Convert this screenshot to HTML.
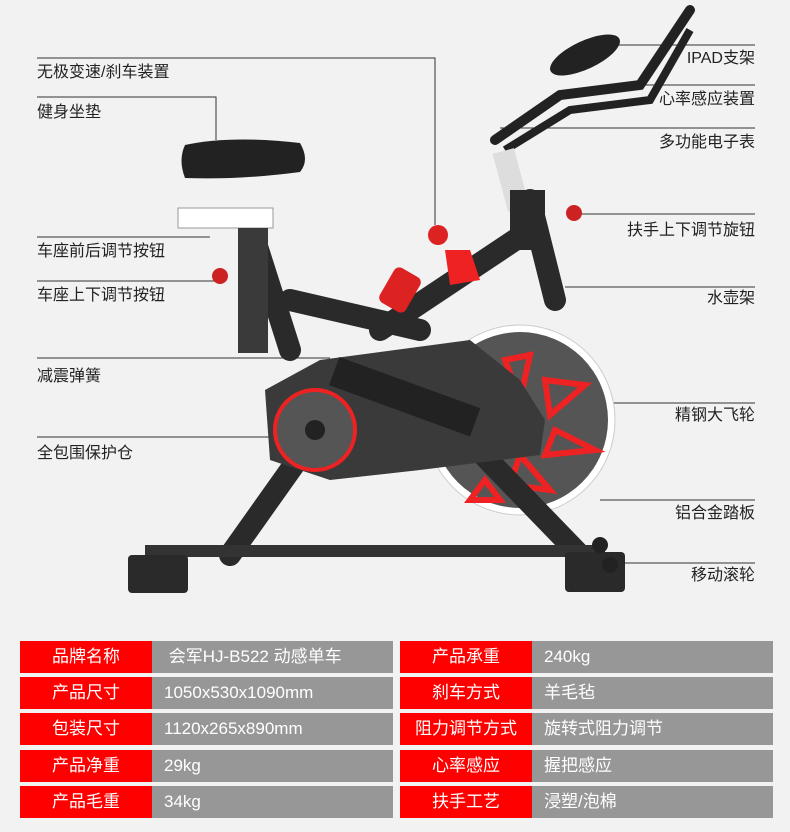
<!DOCTYPE html>
<html><head><meta charset="utf-8"><style>
body{margin:0;width:790px;height:832px;background:#f2f2f2;position:relative;overflow:hidden;font-family:"Liberation Sans","Noto Sans CJK SC",sans-serif}
.l{position:absolute;font-size:16px;color:#222;line-height:20px;white-space:nowrap}
.r{text-align:right;right:35px}
.row{position:absolute;height:32px;line-height:32px;font-size:17px;color:#fff}
.red{background:#f00;text-align:center}
.gr{background:#979797;padding-left:12px;box-sizing:border-box}
</style></head><body>
<svg width="790" height="632" style="position:absolute;left:0;top:0">
<g stroke="#333" stroke-width="1" fill="none">
<polyline points="37,58 435,58 435,225"/>
<polyline points="37,97 216,97 216,140"/>
<line x1="37" y1="237" x2="210" y2="237"/>
<line x1="37" y1="281" x2="215" y2="281"/>
<line x1="37" y1="358" x2="330" y2="358"/>
<line x1="37" y1="437" x2="290" y2="437"/>
<line x1="600" y1="45" x2="755" y2="45"/>
<line x1="640" y1="85" x2="755" y2="85"/>
<line x1="500" y1="128" x2="755" y2="128"/>
<line x1="580" y1="214" x2="755" y2="214"/>
<line x1="565" y1="287" x2="755" y2="287"/>
<line x1="610" y1="403" x2="755" y2="403"/>
<line x1="600" y1="500" x2="755" y2="500"/>
<line x1="620" y1="563" x2="755" y2="563"/>
</g>
<!-- flywheel -->
<circle cx="520" cy="420" r="95" fill="#fff" stroke="#ccc"/>
<circle cx="520" cy="420" r="88" fill="#555"/>
<g fill="none" stroke="#e22" stroke-width="6">
<path d="M505,360 L530,355 L520,400 Z"/><path d="M545,380 L585,385 L550,415 Z"/><path d="M555,430 L595,450 L545,455 Z"/><path d="M520,455 L550,490 L510,485 Z"/><path d="M485,480 L470,500 L500,500 Z"/>
</g>
<!-- frame -->
<g stroke="#2a2a2a" stroke-width="22" stroke-linecap="round" fill="none">
<line x1="255" y1="240" x2="290" y2="350"/>
<line x1="290" y1="300" x2="420" y2="330"/>
<line x1="380" y1="330" x2="530" y2="230"/>
<line x1="530" y1="200" x2="555" y2="300"/>
<line x1="340" y1="400" x2="230" y2="555"/>
<line x1="430" y1="400" x2="580" y2="555"/>
</g>
<path d="M265,390 L320,360 L470,340 L520,380 L545,420 L540,455 L420,470 L330,480 L270,460 Z" fill="#3a3a3a"/>
<circle cx="315" cy="430" r="40" fill="#555" stroke="#e22" stroke-width="4"/>
<circle cx="315" cy="430" r="10" fill="#222"/>
<rect x="330" y="380" width="150" height="30" fill="#222" transform="rotate(20 400 395)"/>
<rect x="145" y="545" width="460" height="12" fill="#333"/>
<rect x="128" y="555" width="60" height="38" rx="4" fill="#2a2a2a"/>
<rect x="565" y="552" width="60" height="40" rx="4" fill="#2a2a2a"/>
<circle cx="600" cy="545" r="8" fill="#222"/><circle cx="610" cy="565" r="8" fill="#222"/>
<!-- seat -->
<path d="M185,145 Q230,135 300,143 Q310,160 300,172 Q240,180 185,178 Q178,160 185,145Z" fill="#222"/>
<rect x="178" y="208" width="95" height="20" fill="#fff" stroke="#999"/>
<rect x="238" y="228" width="30" height="125" fill="#3a3a3a"/>
<circle cx="220" cy="276" r="8" fill="#c22"/>
<!-- handlebar -->
<path d="M495,140 L560,95 L640,85 L690,10" stroke="#222" stroke-width="10" fill="none" stroke-linecap="round"/>
<path d="M505,150 L570,110 L650,100 L690,30" stroke="#222" stroke-width="8" fill="none"/>
<ellipse cx="585" cy="55" rx="38" ry="14" fill="#222" transform="rotate(-25 585 55)"/>
<rect x="500" y="150" width="22" height="60" fill="#ddd" transform="rotate(-15 511 180)"/>
<rect x="510" y="190" width="35" height="60" fill="#2a2a2a"/>
<circle cx="574" cy="213" r="8" fill="#c22"/>
<!-- bottle -->
<rect x="385" y="270" width="30" height="40" rx="6" fill="#d22" transform="rotate(30 400 290)"/>
<path d="M445,250 L470,250 L480,280 L450,285 Z" fill="#e22"/>
<circle cx="438" cy="235" r="10" fill="#d22"/>
</svg>
<div class="l" style="left:37px;top:63px">无极变速/刹车装置</div>
<div class="l" style="left:37px;top:103px">健身坐垫</div>
<div class="l" style="left:37px;top:242px">车座前后调节按钮</div>
<div class="l" style="left:37px;top:286px">车座上下调节按钮</div>
<div class="l" style="left:37px;top:367px">减震弹簧</div>
<div class="l" style="left:37px;top:444px">全包围保护仓</div>
<div class="l r" style="top:49px">IPAD支架</div>
<div class="l r" style="top:90px">心率感应装置</div>
<div class="l r" style="top:133px">多功能电子表</div>
<div class="l r" style="top:221px">扶手上下调节旋钮</div>
<div class="l r" style="top:289px">水壶架</div>
<div class="l r" style="top:406px">精钢大飞轮</div>
<div class="l r" style="top:504px">铝合金踏板</div>
<div class="l r" style="top:566px">移动滚轮</div>

<div class="row red" style="left:20px;top:641px;width:132px">品牌名称</div>
<div class="row gr" style="left:152px;top:641px;width:241px">&nbsp;会军HJ-B522 动感单车</div>
<div class="row red" style="left:400px;top:641px;width:132px">产品承重</div>
<div class="row gr" style="left:532px;top:641px;width:241px">240kg</div>
<div class="row red" style="left:20px;top:677px;width:132px">产品尺寸</div>
<div class="row gr" style="left:152px;top:677px;width:241px">1050x530x1090mm</div>
<div class="row red" style="left:400px;top:677px;width:132px">刹车方式</div>
<div class="row gr" style="left:532px;top:677px;width:241px">羊毛毡</div>
<div class="row red" style="left:20px;top:713px;width:132px">包装尺寸</div>
<div class="row gr" style="left:152px;top:713px;width:241px">1120x265x890mm</div>
<div class="row red" style="left:400px;top:713px;width:132px">阻力调节方式</div>
<div class="row gr" style="left:532px;top:713px;width:241px">旋转式阻力调节</div>
<div class="row red" style="left:20px;top:750px;width:132px">产品净重</div>
<div class="row gr" style="left:152px;top:750px;width:241px">29kg</div>
<div class="row red" style="left:400px;top:750px;width:132px">心率感应</div>
<div class="row gr" style="left:532px;top:750px;width:241px">握把感应</div>
<div class="row red" style="left:20px;top:786px;width:132px">产品毛重</div>
<div class="row gr" style="left:152px;top:786px;width:241px">34kg</div>
<div class="row red" style="left:400px;top:786px;width:132px">扶手工艺</div>
<div class="row gr" style="left:532px;top:786px;width:241px">浸塑/泡棉</div>
</body></html>
